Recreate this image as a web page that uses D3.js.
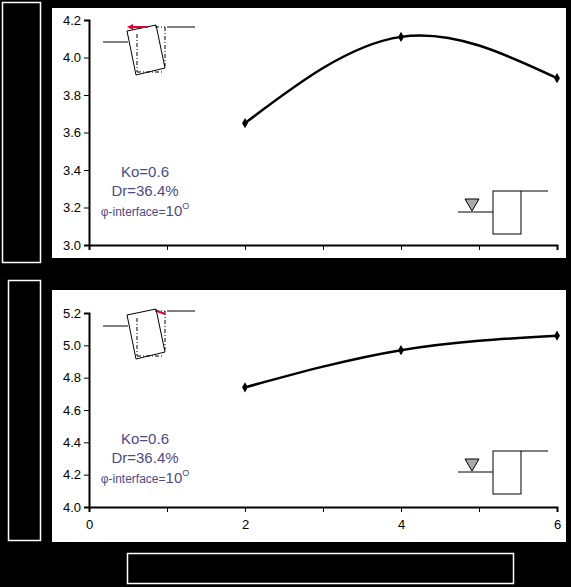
<!DOCTYPE html><html><head><script src="https://cdn.jsdelivr.net/npm/d3@7"></script>
<style>body{margin:0;background:#000}svg{display:block}</style></head><body><svg id="c" width="571" height="587"></svg>
<script>
const xTicks=[0,2,4,6];
const topX=[2,4,6], topY=[3.65,4.11,3.89];
const botX=[2,4,6], botY=[4.74,4.97,5.06];
const topYTicks=[3.0,3.2,3.4,3.6,3.8,4.0,4.2];
const botYTicks=[4.0,4.2,4.4,4.6,4.8,5.0,5.2];
const labels=["Ko=0.6","Dr=36.4%"];
const svg=d3.select("#c");
svg.append("rect").attr("width",571).attr("height",587).attr("fill","#000");
[[2,2,38,260],[8,280,32,260],[127,553,386,30]].forEach(b=>svg.append("rect").attr("x",b[0]+.5).attr("y",b[1]+.5).attr("width",b[2]).attr("height",b[3]).attr("fill","#000").attr("stroke","#fff").attr("stroke-width",1.5));
const x=d3.scaleLinear().domain([0,6]).range([89,557]);
function panel(py,ph,y0,y1,ticks,xs,ys,showX,lblY){
 svg.append("rect").attr("x",52).attr("y",py).attr("width",514).attr("height",ph).attr("fill","#fff");
 const y=d3.scaleLinear().domain([y0,y1]).range(y0===3?[245,20]:[507,313]);
 const base=y(y0);
 const ax=d3.axisLeft(y).tickValues(ticks).tickFormat(d3.format(".1f")).tickSize(5);
 const g=svg.append("g").attr("transform","translate(89,0)").call(ax);
 g.select(".domain").attr("stroke-width",2);
 g.selectAll("text").attr("font-family","Arial").attr("font-size",13).attr("fill","#000");
 const xa=d3.axisBottom(x).tickValues(d3.range(0,7)).tickFormat(d=>showX&&d%2===0?d:"").tickSize(5).tickPadding(8);
 const gx=svg.append("g").attr("transform",`translate(0,${base})`).call(xa);
 gx.select(".domain").attr("stroke-width",2);
 gx.selectAll("text").attr("font-family","Arial").attr("font-size",13).attr("fill","#000");
 const pts=xs.map((v,i)=>[x(v),y(ys[i])]);
 svg.append("path").attr("d",d3.line().curve(d3.curveNatural)(pts)).attr("fill","none").attr("stroke","#000").attr("stroke-width",2.5);
 pts.forEach(p=>svg.append("path").attr("d",d3.symbol(d3.symbolDiamond,30)()).attr("transform",`translate(${p})`));
 const t=svg.append("g").attr("font-family","Arial").attr("fill","#4b4b8c").attr("text-anchor","middle");
 t.append("text").attr("x",145).attr("y",lblY).attr("font-size",15).text(labels[0]);
 t.append("text").attr("x",145).attr("y",lblY+19).attr("font-size",15).text(labels[1]);
 const tt=t.append("text").attr("x",145).attr("y",lblY+39);
 tt.append("tspan").attr("font-size",12).text("φ-interface=");
 tt.append("tspan").attr("font-size",15).text("10");
 tt.append("tspan").attr("font-size",9).attr("dy",-7).text("O");
 return y;
}
function wall(oy,redLeft){
 const g=svg.append("g").attr("fill","none").attr("stroke","#000").attr("stroke-width",1);
 g.append("path").attr("d",`M103,${oy+16}H128 M167,${oy+1}H195`);
 g.append("path").attr("d",`M127,${oy+5}L156,${oy-1}L165,${oy+42}L136,${oy+49}Z`);
 g.append("path").attr("d",`M137,${oy+8}V${oy+46} M137,${oy+46}H164 M165,${oy+1}V${oy+40} M155,${oy+1}H165`).attr("stroke-dasharray","4,2,1,2");
 if(redLeft) svg.append("path").attr("d",`M148,${oy+1}H130`).attr("stroke","#e0003a").attr("stroke-width",2).attr("marker-end","url(#ar)");
 else svg.append("path").attr("d",`M157,${oy+1}L165,${oy+4}`).attr("stroke","#e0003a").attr("stroke-width",2);
}
function water(oy){
 const g=svg.append("g").attr("fill","none").attr("stroke","#000").attr("stroke-width",1);
 g.append("path").attr("d",`M458,${oy+21}H493`);
 g.append("rect").attr("x",493).attr("y",oy).attr("width",28).attr("height",43);
 g.append("path").attr("d",`M521,${oy}H548`);
 svg.append("path").attr("d",`M465,${oy+8}H479L472,${oy+20}Z`).attr("fill","#aaa").attr("stroke","#000");
}
svg.append("defs").append("marker").attr("id","ar").attr("viewBox","0 0 10 10").attr("refX",5).attr("refY",5).attr("markerWidth",3).attr("markerHeight",3).attr("orient","auto").append("path").attr("d","M0,0L10,5L0,10Z").attr("fill","#e0003a");
panel(8,250,3.0,4.2,topYTicks,topX,topY,false,177);
panel(290,252,4.0,5.2,botYTicks,botX,botY,true,444);
wall(26,true); wall(310,false);
water(191); water(451);
</script></body></html>
